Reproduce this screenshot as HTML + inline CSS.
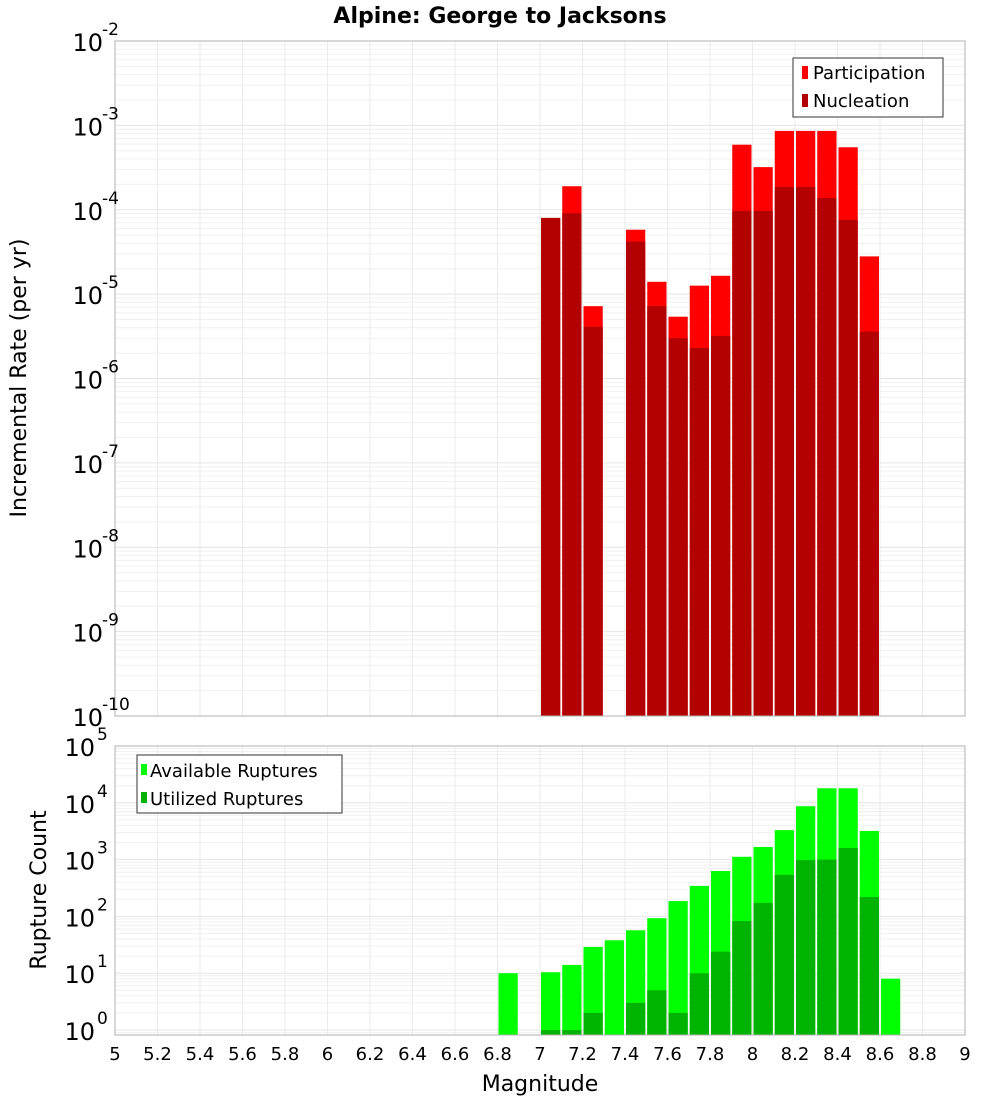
<!DOCTYPE html>
<html><head><meta charset="utf-8"><style>
body{margin:0;background:#fff;font-family:"DejaVu Sans","Liberation Sans",sans-serif}
svg text{font-family:"DejaVu Sans","Liberation Sans",sans-serif}
</style></head><body>
<svg id="c" width="1000" height="1100" xmlns="http://www.w3.org/2000/svg"></svg>
<script>
const binCenters=[6.85,7.05,7.15,7.25,7.45,7.55,7.65,7.75,7.85,7.95,8.05,8.15,8.25,8.35,8.45,8.55,8.65];
const participation=[0,8e-5,1.9e-4,7.2e-6,5.8e-5,1.4e-5,5.4e-6,1.26e-5,1.65e-5,5.9e-4,3.2e-4,8.6e-4,8.6e-4,8.6e-4,5.5e-4,2.8e-5,0];
const nucleation=[0,8e-5,9.1e-5,4.1e-6,4.2e-5,7.2e-6,3.0e-6,2.3e-6,3.2e-6,9.7e-5,9.7e-5,1.86e-4,1.86e-4,1.38e-4,7.6e-5,3.6e-6,0];
const available=[10,10.4,14,29,38,57,93,186,345,630,1120,1670,3300,8700,18000,18000,3200,8];
const availCenters=[6.85,7.05,7.15,7.25,7.35,7.45,7.55,7.65,7.75,7.85,7.95,8.05,8.15,8.25,8.35,8.45,8.55,8.65];
const utilized=[0,1,1,2,0,3,5,2,10,24,83,173,540,980,1000,1600,220,0];
const xTicks=[5,5.2,5.4,5.6,5.8,6,6.2,6.4,6.6,6.8,7,7.2,7.4,7.6,7.8,8,8.2,8.4,8.6,8.8,9];
const topExps=[-10,-9,-8,-7,-6,-5,-4,-3,-2];
const botExps=[0,1,2,3,4,5];

const svg=document.getElementById('c');const NS='http://www.w3.org/2000/svg';
function el(t,a,txt){const e=document.createElementNS(NS,t);for(const k in a)e.setAttribute(k,a[k]);if(txt!==undefined)e.textContent=txt;svg.appendChild(e);return e;}
const X0=115,X1=965;
const xs=m=>X0+(m-5)/4*(X1-X0);
const T0=41,T1=716;const yT=v=>T0+(-2-Math.log10(v))/8*(T1-T0);
const B0=746,DB=56.8;const yB=v=>B0+(5-Math.log10(v))*DB;const B1=1035;

// frames bg and grids
function grid(top,bot,yf,emin,emax){
  for(let e=emin;e<emax;e++)for(let k=1;k<10;k++){const y=yf(k*Math.pow(10,e));if(y<top||y>bot)continue;
    const g=el('line',{x1:X0,x2:X1,y1:y,y2:y,stroke:k==1?'#e4e4e4':'#f0f0f0','stroke-width':1});
    }
  xTicks.forEach(t=>{const x=xs(t);const g=el('line',{x1:x,x2:x,y1:top,y2:bot,stroke:'#ebebeb'});
    });
}
grid(T0,T1,yT,-10,-2);
grid(B0,B1,yB,-1,5);

// top bars
binCenters.forEach((m,i)=>{
  const x=xs(m-0.05)+1,w=xs(m+0.05)-xs(m-0.05)-2;
  if(participation[i]>0){const r=el('rect',{x:x,y:yT(participation[i]),width:w,height:T1-yT(participation[i]),fill:'#ff0000'});
    }
  if(nucleation[i]>0){const r=el('rect',{x:x,y:yT(nucleation[i]),width:w,height:T1-yT(nucleation[i]),fill:'#b30000'});
    }
});
availCenters.forEach((m,i)=>{
  const x=xs(m-0.05)+1,w=xs(m+0.05)-xs(m-0.05)-2;
  if(available[i]>0){const y=yB(available[i]);const r=el('rect',{x:x,y:y,width:w,height:B1-y,fill:'#00ff00'});
    }
  if(utilized[i]>0){const y=yB(utilized[i]);const r=el('rect',{x:x,y:y,width:w,height:B1-y,fill:'#00b300'});
    }
});

// frames
let f=el('rect',{x:X0,y:T0,width:X1-X0,height:T1-T0,fill:'none',stroke:'#b0b0b0'});
f=el('rect',{x:X0,y:B0,width:X1-X0,height:B1-B0,fill:'none',stroke:'#b0b0b0'});

// y tick labels
topExps.forEach(e=>{const y=yT(Math.pow(10,e));
  const t=el('text',{x:X0-12,y:y+10,'font-size':24,'text-anchor':'end'},'10');
  const s=el('text',{x:X0-13,y:y-6,'font-size':17},String(e));});
botExps.forEach(e=>{const y=yB(Math.pow(10,e));
  const t=el('text',{x:X0-20,y:y+10,'font-size':24,'text-anchor':'end'},'10');
  const s=el('text',{x:X0-18,y:y-6,'font-size':17},String(e));});
xTicks.forEach(v=>{const t=el('text',{x:xs(v),y:1060,'font-size':18,'text-anchor':'middle'},String(v));});

let t=el('text',{x:500,y:23,'font-size':22,'font-weight':'bold','text-anchor':'middle'},'Alpine: George to Jacksons');
t=el('text',{x:540,y:1091,'font-size':22,'text-anchor':'middle'},'Magnitude');
t=el('text',{x:0,y:0,'font-size':22,'text-anchor':'middle',transform:'translate(26,378) rotate(-90)'},'Incremental Rate (per yr)');
t=el('text',{x:0,y:0,'font-size':22,'text-anchor':'middle',transform:'translate(46,890) rotate(-90)'},'Rupture Count');

// legends
f=el('rect',{x:793,y:58,width:150,height:59,fill:'#fff',stroke:'#333'});
f=el('rect',{x:802,y:66,width:6,height:13,fill:'#ff0000'});
t=el('text',{x:813,y:79,'font-size':18},'Participation');
f=el('rect',{x:802,y:94,width:6,height:13,fill:'#b30000'});
t=el('text',{x:813,y:107,'font-size':18},'Nucleation');
f=el('rect',{x:137,y:755,width:205,height:58,fill:'#fff',stroke:'#333'});
f=el('rect',{x:141,y:764,width:6,height:11,fill:'#00ff00'});
t=el('text',{x:150,y:777,'font-size':18},'Available Ruptures');
f=el('rect',{x:141,y:792,width:6,height:11,fill:'#00b300'});
t=el('text',{x:150,y:805,'font-size':18},'Utilized Ruptures');
</script>
</body></html>
